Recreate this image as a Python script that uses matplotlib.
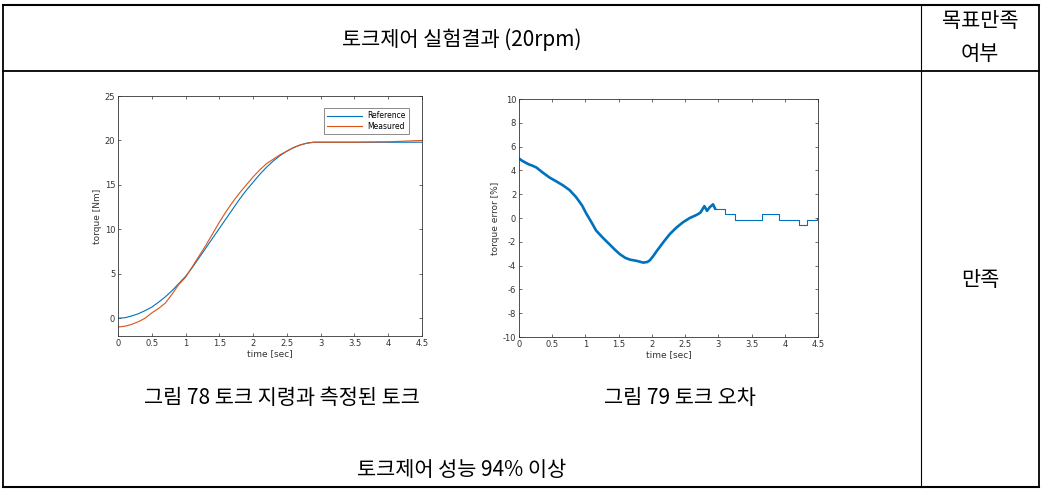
import numpy as np
import matplotlib
matplotlib.use('Agg')
import matplotlib.pyplot as plt
from matplotlib.lines import Line2D

# torque command vs measured torque (20rpm)
t_ref = [0.0, 0.1, 0.2, 0.3, 0.4, 0.5, 0.6, 0.7, 0.8, 0.9, 1.0, 1.1, 1.2, 1.3, 1.4,
         1.5, 1.6, 1.7, 1.8, 1.9, 2.0, 2.1, 2.2, 2.3, 2.4, 2.5, 2.6, 2.7, 2.8, 2.9,
         3.0, 3.5, 4.0, 4.5]
torque_ref = [0.0, 0.05, 0.25, 0.5, 0.85, 1.25, 1.8, 2.4, 3.1, 3.9, 4.7, 5.7, 6.8, 7.9, 9.0,
              10.1, 11.2, 12.3, 13.4, 14.4, 15.3, 16.2, 17.0, 17.7, 18.3, 18.8, 19.2, 19.5, 19.7, 19.8,
              19.8, 19.8, 19.8, 19.8]
torque_meas = [-1.0, -0.9, -0.7, -0.4, 0.0, 0.6, 1.1, 1.7, 2.7, 3.8, 4.6, 5.8, 7.0, 8.2, 9.5,
               10.8, 12.0, 13.1, 14.1, 15.0, 15.9, 16.7, 17.4, 17.9, 18.4, 18.8, 19.2, 19.5, 19.7, 19.8,
               19.8, 19.8, 19.85, 20.0]

# torque error [%]
t_err = [0.0, 0.05, 0.1, 0.15, 0.2, 0.26, 0.35, 0.46, 0.57, 0.66, 0.76, 0.86, 0.95, 1.01,
         1.1, 1.16, 1.26, 1.36, 1.45, 1.52, 1.6, 1.67, 1.77, 1.87, 1.93, 1.97, 2.02, 2.07,
         2.17, 2.27, 2.37, 2.47, 2.57, 2.67, 2.73, 2.79, 2.83, 2.87, 2.92, 2.95]
err = [5.0, 4.8, 4.65, 4.5, 4.4, 4.25, 3.85, 3.4, 3.05, 2.75, 2.35, 1.75, 1.05, 0.4,
       -0.45, -1.05, -1.65, -2.2, -2.7, -3.05, -3.35, -3.5, -3.6, -3.75, -3.7, -3.55, -3.2, -2.8,
       -2.05, -1.35, -0.8, -0.35, 0.0, 0.25, 0.45, 1.0, 0.6, 0.9, 1.15, 0.8]
t_step = [2.95, 3.1, 3.25, 3.65, 3.92, 4.22, 4.33, 4.48, 4.5]
err_step = [0.75, 0.3, -0.2, 0.3, -0.2, -0.6, -0.2, 0.0, 0.0]

xticks = [0, 0.5, 1, 1.5, 2, 2.5, 3, 3.5, 4, 4.5]
xtick_labels = ['0', '0.5', '1', '1.5', '2', '2.5', '3', '3.5', '4', '4.5']

blue = '#0072BD'
orange = '#D95319'
kfont = ['Noto Sans CJK KR', 'DejaVu Sans']
plt.rcParams['axes.unicode_minus'] = False

W, H = 1042, 495
fig = plt.figure(figsize=(W / 100, H / 100), dpi=100)


def px(x, y):
    return x / W, 1 - y / H


def hline(x0, x1, y, lw=1.3):
    fig.add_artist(Line2D([x0 / W, x1 / W], [1 - y / H, 1 - y / H], color='black', lw=lw))


def vline(x, y0, y1, lw=1.3):
    fig.add_artist(Line2D([x / W, x / W], [1 - y0 / H, 1 - y1 / H], color='black', lw=lw))


# table frame
hline(3, 1039, 5, lw=1.5)
hline(3, 1039, 71)
hline(3, 1039, 487, lw=1.5)
vline(3, 5, 487)
vline(1039, 5, 487)
vline(921, 5, 487, lw=0.8)

fs = 15
fig.text(*px(462, 40), '토크제어 실험결과 (20rpm)', fontsize=fs, family=kfont, ha='center', va='center')
fig.text(*px(980, 21), '목표만족', fontsize=fs, family=kfont, ha='center', va='center')
fig.text(*px(980, 54), '여부', fontsize=fs, family=kfont, ha='center', va='center')
fig.text(*px(980, 280), '만족', fontsize=fs, family=kfont, ha='center', va='center')
fig.text(*px(282, 398), '그림 78 토크 지령과 측정된 토크', fontsize=fs, family=kfont, ha='center', va='center')
fig.text(*px(680, 398), '그림 79 토크 오차', fontsize=fs, family=kfont, ha='center', va='center')
fig.text(*px(462, 470), '토크제어 성능 94% 이상', fontsize=fs, family=kfont, ha='center', va='center')


def style_axes(ax):
    ax.tick_params(direction='in', top=True, right=True, labelsize=6, length=2.5,
                   width=0.5, colors='#333333', pad=2)
    for s in ax.spines.values():
        s.set_linewidth(0.6)
        s.set_color('#333333')
    ax.set_xlim(0, 4.5)
    ax.set_xticks(xticks)
    ax.set_xticklabels(xtick_labels)
    ax.set_xlabel('time [sec]', fontsize=6.5, color='#333333', labelpad=1)


# torque plot
ax1 = fig.add_axes([118 / W, 1 - 336 / H, 304 / W, 240 / H])
ax1.plot(t_ref, torque_ref, color=blue, lw=0.8, label='Reference')
ax1.plot(t_ref, torque_meas, color=orange, lw=0.8, label='Measured')
ax1.set_ylim(-2, 25)
ax1.set_yticks([0, 5, 10, 15, 20, 25])
ax1.set_ylabel('torque [Nm]', fontsize=6.5, color='#333333', labelpad=2)
style_axes(ax1)
leg = ax1.legend(loc='upper right', fontsize=5.5, handlelength=4.5, borderpad=0.4,
                 labelspacing=0.2, fancybox=False, edgecolor='#333333',
                 bbox_to_anchor=(0.97, 0.965))
leg.get_frame().set_linewidth(0.5)

# error plot
ax2 = fig.add_axes([519 / W, 1 - 337 / H, 299 / W, 238 / H])
ax2.plot(t_err, err, color=blue, lw=1.9)
ax2.plot(t_err[:5], err[:5], color=blue, lw=1.0)
ax2.plot(t_step, err_step, color=blue, lw=0.8, drawstyle='steps-post')
ax2.set_ylim(-10, 10)
ax2.set_yticks(np.arange(-10, 11, 2))
ax2.set_ylabel('torque error [%]', fontsize=6.5, color='#333333', labelpad=2)
style_axes(ax2)

fig.savefig('out.png', dpi=100)
